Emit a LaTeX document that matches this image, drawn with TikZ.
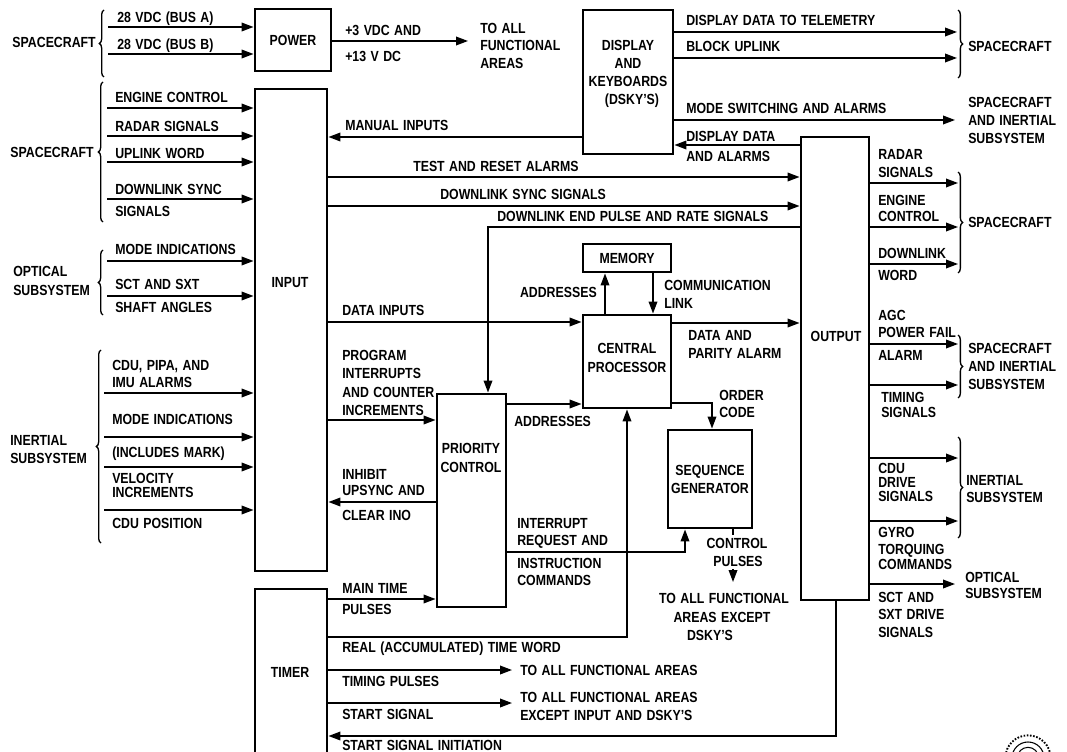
\documentclass[tikz,border=0pt]{standalone}
\usepackage{fontspec}
\setmainfont{Liberation Sans}[FakeStretch=0.84,WordSpace=1.3]
\usetikzlibrary{arrows.meta,fit,decorations.pathreplacing}
\tikzset{
 box/.style={draw, line width=2.2pt, inner sep=0pt},
 arr/.style={line width=1.1pt, -{Triangle[length=9pt,width=6.5pt]}},
 ln/.style={line width=1.1pt},
 brcl/.style={line width=1pt, decorate, decoration={brace, amplitude=3.5pt}},
 txt/.style={inner sep=0pt, text height=8pt, text depth=0pt, font=\bfseries\fontsize{11pt}{13pt}\selectfont},
 lbl/.style={txt, anchor=west},
 lblc/.style={txt, anchor=center},
 lblr/.style={txt, anchor=east},
}
\newcommand\mylab[4]{\node[lbl] (#1) at (#2,#3) {#4};}
\newcommand\mylabc[4]{\node[lblc] (#1) at (#2,#3) {#4};}
\newcommand\mylabr[4]{\node[lblr] (#1) at (#2,#3) {#4};}
\begin{document}
\begin{tikzpicture}[x=0.75pt,y=-0.75pt]
\useasboundingbox (0,0) rectangle (1067,752);
\clip (0,0) rectangle (1067,752);

% ---------- boxes ----------
\node[box, fit={(255,9) (331,71)}] (power) {};
\node[box, fit={(583,10) (673,154)}] (dsky) {};
\node[box, fit={(255,89) (327,571)}] (input) {};
\node[box, fit={(255,589) (327,800)}] (timer) {};
\node[box, fit={(583,244) (671,272)}] (memory) {};
\node[box, fit={(583,315) (671,408)}] (cp) {};
\node[box, fit={(437,394) (506,607)}] (pc) {};
\node[box, fit={(668,430) (752,528)}] (sg) {};
\node[box, fit={(801,137) (869,600)}] (output) {};

% ---------- braces ----------
\draw[brcl] (104,77) -- (104,10);
\draw[brcl] (103,222) -- (103,82);
\draw[brcl] (103,315) -- (103,250);
\draw[brcl] (101,543) -- (101,350);
\draw[brcl] (958,10) -- (958,78);
\draw[brcl] (958,172) -- (958,273);
\draw[brcl] (958,335) -- (958,398);
\draw[brcl] (958,437) -- (958,538);

% ---------- power ----------
\coordinate (sA) at (108,27);
\coordinate (sB) at (108,54);
\draw[arr] (sA) -- (power.west |- sA);
\draw[arr] (sB) -- (power.west |- sB);
\coordinate (pwrout) at (468,41);
\draw[arr] (power.east |- pwrout) -- (pwrout);

% ---------- inputs on the left ----------
\foreach \y [count=\i] in {108,136,162,199,261,296} {
  \coordinate (ic\i) at (107,\y);
  \draw[arr] (ic\i) -- (input.west |- ic\i);
}
\foreach \y [count=\i] in {393,437,467,510} {
  \coordinate (ii\i) at (104,\y);
  \draw[arr] (ii\i) -- (input.west |- ii\i);
}

% ---------- DSKY ----------
\coordinate (dT) at (957,32);
\coordinate (dB) at (957,58);
\coordinate (dM) at (955,120);
\draw[arr] (dsky.east |- dT) -- (dT);
\draw[arr] (dsky.east |- dB) -- (dB);
\draw[arr] (dsky.east |- dM) -- (dM);
\draw[arr] (output.west |- 0,145) -- (dsky.east |- 0,145);
\draw[arr] (dsky.west |- 0,137) -- (input.east |- 0,137);

% ---------- input to output and processor ----------
\draw[arr] (input.east |- 0,177) -- (output.west |- 0,177);
\draw[arr] (input.east |- 0,206) -- (output.west |- 0,206);
\draw[arr] (output.west |- 0,227) -- (488,227) -- (pc.north -| 488,0);
\draw[arr] (input.east |- 0,322) -- (cp.west |- 0,322);
\draw[arr] (input.east |- 0,420) -- (pc.west |- 0,420);
\draw[arr] (pc.west |- 0,502) -- (input.east |- 0,502);
\draw[arr] (pc.east |- 0,404) -- (cp.west |- 0,404);
\draw[arr] (cp.north -| 605,0) -- (memory.south -| 605,0);
\draw[arr] (memory.south -| 653,0) -- (cp.north -| 653,0);
\draw[arr] (cp.east |- 0,323) -- (output.west |- 0,323);
\draw[arr] (cp.east |- 0,403) -- (712,403) -- (sg.north -| 712,0);
\draw[arr] (pc.east |- 0,552) -- (685,552) -- (sg.south -| 685,0);
\draw[arr] (timer.east |- 0,637) -- (627,637) -- (cp.south -| 627,0);
\draw[arr] (timer.east |- 0,599) -- (pc.west |- 0,599);
\coordinate (tp) at (512,670);
\coordinate (ss) at (512,703);
\draw[arr] (timer.east |- tp) -- (tp);
\draw[arr] (timer.east |- ss) -- (ss);
\draw[arr] (output.south -| 836,0) -- (836,736) -- (timer.east |- 0,736);
% control pulses
\coordinate (cpa) at (733,535);
\coordinate (cpb) at (733,569);
\coordinate (cpc) at (733,582);
\draw[ln] (sg.south -| cpa) -- (cpa);
\draw[arr] (cpb) -- (cpc);

% ---------- outputs on the right ----------
\foreach \y [count=\i] in {183,227,264,344,385,458,521} {
  \coordinate (oc\i) at (958,\y);
  \draw[arr] (output.east |- oc\i) -- (oc\i);
}
\coordinate (oopt) at (955,584);
\draw[arr] (output.east |- oopt) -- (oopt);

% ---------- texts ----------
\mylab{t1}{117}{17}{28 VDC (BUS A)}
\mylab{t2}{117}{44}{28 VDC (BUS B)}
\mylabr{t3}{96}{42}{SPACECRAFT}
\mylabc{t4}{293}{40}{POWER}
\mylab{t5}{345}{30}{+3 VDC AND}
\mylab{t6}{345}{56}{+13 V DC}
\mylab{t7}{480}{28}{TO ALL}
\mylab{t8}{480}{45}{FUNCTIONAL}
\mylab{t9}{480}{63}{AREAS}

\mylabc{t10}{628}{45}{DISPLAY}
\mylabc{t11}{628}{63}{AND}
\mylabc{t12}{628}{81}{KEYBOARDS}
\mylabc{t13}{632}{99}{(DSKY'S)}
\mylab{t14}{686}{20}{DISPLAY DATA TO TELEMETRY}
\mylab{t15}{686}{46}{BLOCK UPLINK}
\mylab{t16}{968}{46}{SPACECRAFT}
\mylab{t17}{686}{108}{MODE SWITCHING AND ALARMS}
\mylab{t18}{968}{102}{SPACECRAFT}
\mylab{t19}{968}{120}{AND INERTIAL}
\mylab{t20}{968}{138}{SUBSYSTEM}
\mylab{t21}{686}{136}{DISPLAY DATA}
\mylab{t22}{686}{156}{AND ALARMS}
\mylab{t23}{345}{125}{MANUAL INPUTS}

\mylab{t24}{115}{97}{ENGINE CONTROL}
\mylab{t25}{115}{126}{RADAR SIGNALS}
\mylab{t26}{115}{153}{UPLINK WORD}
\mylab{t27}{115}{189}{DOWNLINK SYNC}
\mylab{t28}{115}{211}{SIGNALS}
\mylabr{t29}{94}{152}{SPACECRAFT}
\mylab{t30}{115}{249}{MODE INDICATIONS}
\mylab{t31}{115}{284}{SCT AND SXT}
\mylab{t32}{115}{307}{SHAFT ANGLES}
\mylab{t33}{13}{271}{OPTICAL}
\mylab{t34}{13}{290}{SUBSYSTEM}
\mylab{t35}{112}{365}{CDU, PIPA, AND}
\mylab{t36}{112}{382}{IMU ALARMS}
\mylab{t37}{112}{419}{MODE INDICATIONS}
\mylab{t38}{112}{452}{(INCLUDES MARK)}
\mylab{t39}{112}{478}{VELOCITY}
\mylab{t40}{112}{492}{INCREMENTS}
\mylab{t41}{112}{523}{CDU POSITION}
\mylab{t42}{10}{440}{INERTIAL}
\mylab{t43}{10}{458}{SUBSYSTEM}
\mylabc{t44}{290}{282}{INPUT}

\mylab{t45}{413}{166}{TEST AND RESET ALARMS}
\mylab{t46}{440}{194}{DOWNLINK SYNC SIGNALS}
\mylab{t47}{497}{216}{DOWNLINK END PULSE AND RATE SIGNALS}
\mylabc{t48}{627}{258}{MEMORY}
\mylabr{t49}{597}{292}{ADDRESSES}
\mylab{t50}{664}{285}{COMMUNICATION}
\mylab{t51}{664}{303}{LINK}
\mylab{t52}{342}{310}{DATA INPUTS}
\mylabc{t53}{627}{348}{CENTRAL}
\mylabc{t54}{627}{367}{PROCESSOR}
\mylab{t55}{688}{335}{DATA AND}
\mylab{t56}{688}{353}{PARITY ALARM}
\mylab{t57}{342}{355}{PROGRAM}
\mylab{t58}{342}{373}{INTERRUPTS}
\mylab{t59}{342}{392}{AND COUNTER}
\mylab{t60}{342}{410}{INCREMENTS}
\mylab{t61}{514}{421}{ADDRESSES}
\mylab{t62}{719}{395}{ORDER}
\mylab{t63}{719}{412}{CODE}
\mylabc{t64}{471}{448}{PRIORITY}
\mylabc{t65}{471}{467}{CONTROL}
\mylabc{t66}{710}{470}{SEQUENCE}
\mylabc{t67}{710}{488}{GENERATOR}
\mylab{t68}{342}{474}{INHIBIT}
\mylab{t69}{342}{490}{UPSYNC AND}
\mylab{t70}{342}{515}{CLEAR INO}
\mylab{t71}{517}{523}{INTERRUPT}
\mylab{t72}{517}{540}{REQUEST AND}
\mylab{t73}{517}{563}{INSTRUCTION}
\mylab{t74}{517}{580}{COMMANDS}
\mylabc{t75}{737}{543}{CONTROL}
\mylabc{t76}{738}{561}{PULSES}
\mylabc{t77}{724}{598}{TO ALL FUNCTIONAL}
\mylabc{t78}{722}{617}{AREAS EXCEPT}
\mylabc{t79}{710}{635}{DSKY'S}
\mylab{t80}{342}{588}{MAIN TIME}
\mylab{t81}{342}{609}{PULSES}
\mylab{t82}{342}{647}{REAL (ACCUMULATED) TIME WORD}
\mylabc{t83}{290}{672}{TIMER}
\mylab{t84}{342}{681}{TIMING PULSES}
\mylab{t85}{520}{670}{TO ALL FUNCTIONAL AREAS}
\mylab{t86}{342}{714}{START SIGNAL}
\mylab{t87}{520}{697}{TO ALL FUNCTIONAL AREAS}
\mylab{t88}{520}{715}{EXCEPT INPUT AND DSKY'S}
\mylab{t89}{342}{745}{START SIGNAL INITIATION}

\mylabc{t90}{836}{336}{OUTPUT}
\mylab{t91}{878}{154}{RADAR}
\mylab{t92}{878}{172}{SIGNALS}
\mylab{t93}{878}{200}{ENGINE}
\mylab{t94}{878}{216}{CONTROL}
\mylab{t95}{878}{253}{DOWNLINK}
\mylab{t96}{878}{275}{WORD}
\mylab{t97}{968}{222}{SPACECRAFT}
\mylab{t98}{878}{315}{AGC}
\mylab{t99}{878}{332}{POWER FAIL}
\mylab{t100}{878}{355}{ALARM}
\mylab{t101}{881}{397}{TIMING}
\mylab{t102}{881}{412}{SIGNALS}
\mylab{t103}{968}{348}{SPACECRAFT}
\mylab{t104}{968}{366}{AND INERTIAL}
\mylab{t105}{968}{384}{SUBSYSTEM}
\mylab{t106}{878}{468}{CDU}
\mylab{t107}{878}{482}{DRIVE}
\mylab{t108}{878}{496}{SIGNALS}
\mylab{t109}{878}{532}{GYRO}
\mylab{t110}{878}{549}{TORQUING}
\mylab{t111}{878}{564}{COMMANDS}
\mylab{t112}{966}{480}{INERTIAL}
\mylab{t113}{966}{497}{SUBSYSTEM}
\mylab{t114}{878}{597}{SCT AND}
\mylab{t115}{878}{614}{SXT DRIVE}
\mylab{t116}{878}{632}{SIGNALS}
\mylab{t117}{965}{577}{OPTICAL}
\mylab{t118}{965}{593}{SUBSYSTEM}

% ---------- logo fragment ----------
\coordinate (logo) at (1028,758);
\draw[line width=1.4pt, dash pattern=on 1.2pt off 1.2pt] (logo) circle[radius=17pt];
\draw[line width=0.8pt] (logo) circle[radius=12pt];
\draw[line width=0.8pt] (logo) circle[radius=8pt];
\end{tikzpicture}
\end{document}
